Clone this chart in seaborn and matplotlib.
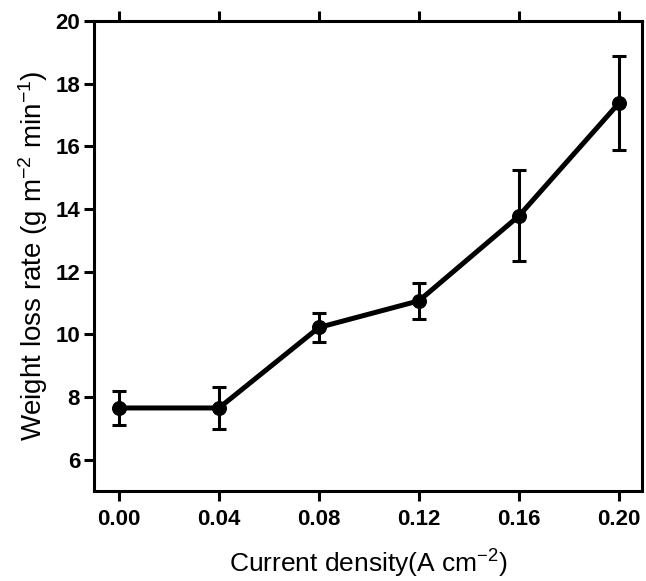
"""
Weight loss rate vs current density, with error bars.
"""

import matplotlib
matplotlib.use("Agg")
import matplotlib.pyplot as plt
import seaborn as sns
import pandas as pd

# Data
current_density = [0.00, 0.04, 0.08, 0.12, 0.16, 0.20]
weight_loss = [7.65, 7.65, 10.22, 11.07, 13.78, 17.38]
weight_err = [0.53, 0.68, 0.46, 0.57, 1.45, 1.51]

x_ticks = [0.00, 0.04, 0.08, 0.12, 0.16, 0.20]
x_ticklabels = ['0.00', '0.04', '0.08', '0.12', '0.16', '0.20']
y_ticks = [6, 8, 10, 12, 14, 16, 18, 20]

df = pd.DataFrame({'x': current_density, 'y': weight_loss, 'err': weight_err})

sns.set_style('ticks')
plt.rcParams['font.family'] = ['Liberation Sans', 'DejaVu Sans']
plt.rcParams['mathtext.fontset'] = 'custom'
plt.rcParams['mathtext.rm'] = 'Liberation Sans'
plt.rcParams['mathtext.default'] = 'regular'
for key in ['text.color', 'axes.labelcolor', 'xtick.color', 'ytick.color', 'axes.edgecolor']:
    plt.rcParams[key] = 'black'

fig = plt.figure(figsize=(6.46, 5.81), dpi=100)
ax = fig.add_axes([0.1455, 0.1549, 0.849, 0.809])

# Error bars first, then line + markers
ax.errorbar(df['x'], df['y'], yerr=df['err'], fmt='none', ecolor='black',
            elinewidth=2.2, capsize=5, capthick=2.2, zorder=2)
sns.lineplot(data=df, x='x', y='y', ax=ax, color='black', linewidth=3.6,
             marker='o', markersize=10, markeredgecolor='black', zorder=3)

ax.set_xlim(-0.01, 0.2094)
ax.set_ylim(5, 20)
ax.set_xticks(x_ticks)
ax.set_xticklabels(x_ticklabels)
ax.set_yticks(y_ticks)

for spine in ax.spines.values():
    spine.set_linewidth(2.2)
    spine.set_visible(True)
    spine.set_color('black')

ax.tick_params(axis='x', direction='out', length=7, width=2.2, top=True,
               labeltop=False, labelsize=16, pad=6)
ax.tick_params(axis='y', direction='out', length=7, width=2.2, right=False,
               labelsize=16, pad=3)
for lab in ax.get_xticklabels() + ax.get_yticklabels():
    lab.set_fontweight('bold')

ax.set_xlabel('Current density(A cm$^{-2}$)', fontsize=19, labelpad=13)
ax.set_ylabel('Weight loss rate (g m$^{-2}$ min$^{-1}$)', fontsize=20, labelpad=4)

plt.savefig('out.png', dpi=100)
